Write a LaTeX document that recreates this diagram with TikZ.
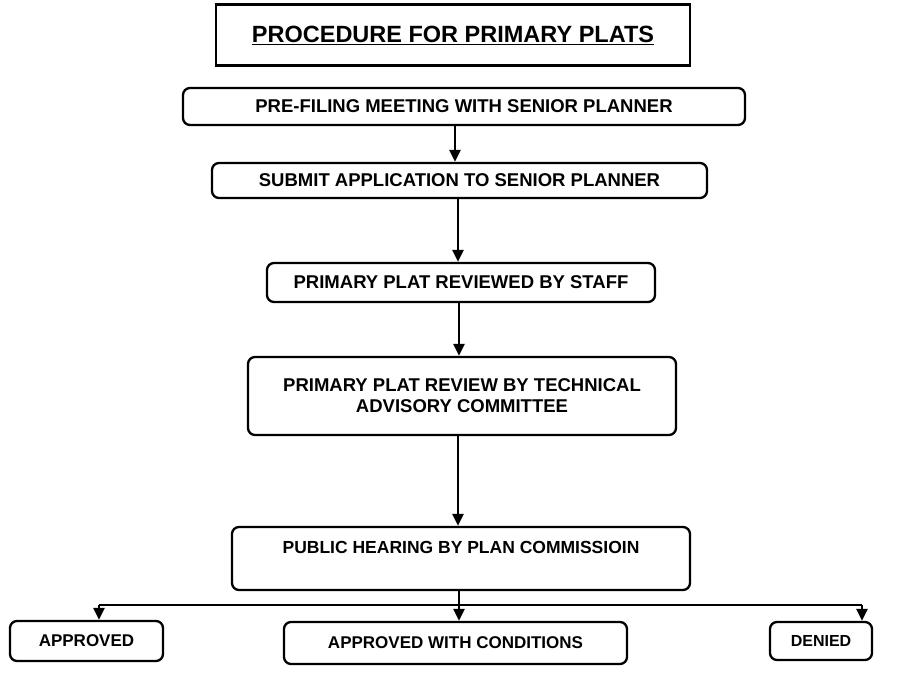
\documentclass[tikz,border=0pt]{standalone}
\usepackage{fontspec}
\setmainfont{Liberation Sans}
\usetikzlibrary{arrows.meta}
\tikzset{
  stepbox/.style={draw, line width=2.3pt, rounded corners=7pt, align=center, inner sep=0pt,
    font=\fontsize{18.5}{21}\selectfont\bfseries},
  lowbox/.style={stepbox, font=\fontsize{17}{20}\selectfont\bfseries},
  titlebox/.style={draw, line width=2.3pt, inner sep=0pt,
    font=\fontsize{23.5}{28}\selectfont\bfseries},
  flow/.style={line width=2.3pt, -{Triangle[length=12pt,width=11pt]}},
  link/.style={line width=2.3pt}
}
\begin{document}
\begin{tikzpicture}[x=1pt,y=-1pt]
\useasboundingbox (0,0) rectangle (919,674);
\node[titlebox, minimum width=474pt, minimum height=61pt] (title) at (453,35) {\underline{PROCEDURE FOR PRIMARY PLATS}};
\node[stepbox, minimum width=562pt, minimum height=37pt] (pre) at (464,106.5) {PRE-FILING MEETING WITH SENIOR PLANNER};
\node[stepbox, minimum width=495pt, minimum height=35pt] (sub) at (459.5,180.5) {SUBMIT APPLICATION TO SENIOR PLANNER};
\node[stepbox, minimum width=388pt, minimum height=39pt] (staff) at (461,282.5) {PRIMARY PLAT REVIEWED BY STAFF};
\node[stepbox, minimum width=428pt, minimum height=78pt] (tac) at (462,396) {PRIMARY PLAT REVIEW BY TECHNICAL\\ADVISORY COMMITTEE};
\node[stepbox, font=\fontsize{17.5}{21}\selectfont\bfseries, minimum width=458pt,
  text height=26.5pt, text depth=36.5pt] (pub) at (461,558.5) {PUBLIC HEARING BY PLAN COMMISSIOIN};
\node[lowbox, minimum width=153pt, minimum height=40pt] (app) at (86.5,641) {APPROVED};
\node[lowbox, minimum width=343pt, minimum height=42pt] (cond) at (455.5,643) {APPROVED WITH CONDITIONS};
\node[lowbox, font=\fontsize{16}{19}\selectfont\bfseries, minimum width=102pt, minimum height=38pt] (den) at (821,641) {DENIED};
\coordinate (split) at (459,605);
\coordinate (la) at (99,605);
\coordinate (ld) at (862,605);
\draw[flow] (pre.south -| 455,0) -- (sub.north -| 455,0);
\draw[flow] (sub.south -| 458,0) -- (staff.north -| 458,0);
\draw[flow] (staff.south -| 459,0) -- (tac.north -| 459,0);
\draw[flow] (tac.south -| 458,0) -- (pub.north -| 458,0);
\draw[link] (pub.south -| split) -- (split);
\draw[link] (la) -- (ld);
\draw[flow] (la) -- (app.north -| la);
\draw[flow] (split) -- (cond.north -| split);
\draw[flow] (ld) -- (den.north -| ld);
\end{tikzpicture}
\end{document}
